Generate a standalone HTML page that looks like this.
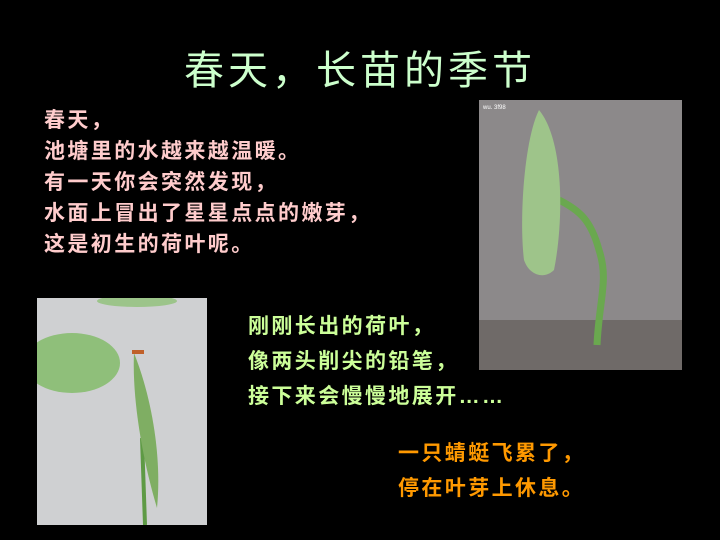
<!DOCTYPE html>
<html><head><meta charset="utf-8"><style>
body{margin:0;width:720px;height:540px;background:#000;overflow:hidden;position:relative;font-family:"Liberation Sans","Noto Sans CJK SC",sans-serif}
.t{position:absolute;white-space:nowrap}
</style></head><body>
<div class="t" style="left:0;width:720px;text-align:center;top:38px;font-size:40px;letter-spacing:4px;color:#ccffcc">春天，长苗的季节</div>
<div class="t" style="left:44px;top:105px;font-size:21px;letter-spacing:2.4px;font-weight:bold;color:#ffcccc;line-height:31px">春天，<br>池塘里的水越来越温暖。<br>有一天你会突然发现，<br>水面上冒出了星星点点的嫩芽，<br>这是初生的荷叶呢。</div>
<svg class="t" style="left:479px;top:100px" width="203" height="270">
<rect width="203" height="270" fill="#8c898a"/>
<rect y="220" width="203" height="50" fill="#6f6a68"/>
<path d="M118 245 C120 200 130 180 120 150 C112 120 100 110 80 100" stroke="#6aa84f" stroke-width="7" fill="none"/>
<path d="M60 10 C85 40 85 120 75 170 C65 180 50 175 45 160 C40 120 45 40 60 10Z" fill="#9ec48a"/>
<text x="4" y="9" font-size="6" fill="#fff">wu. 3f98</text>
</svg>
<svg class="t" style="left:37px;top:298px" width="170" height="227">
<rect width="170" height="227" fill="#cfd0d2"/>
<ellipse cx="35" cy="65" rx="48" ry="30" fill="#8fbf7a"/>
<ellipse cx="100" cy="3" rx="40" ry="6" fill="#9cc48a"/>
<path d="M108 227 L105 140" stroke="#5e9a45" stroke-width="4"/>
<path d="M97 55 C115 100 125 160 120 210 C105 160 95 100 97 55Z" fill="#7fae63"/>
<rect x="95" y="52" width="12" height="4" fill="#c0602a"/>
</svg>
<div class="t" style="left:248px;top:309px;font-size:21px;letter-spacing:2.4px;font-weight:bold;color:#ccff99;line-height:35px">刚刚长出的荷叶，<br>像两头削尖的铅笔，<br>接下来会慢慢地展开……</div>
<div class="t" style="left:398px;top:436px;font-size:21px;letter-spacing:2.4px;font-weight:bold;color:#ff9900;line-height:35px">一只蜻蜓飞累了，<br>停在叶芽上休息。</div>
</body></html>
